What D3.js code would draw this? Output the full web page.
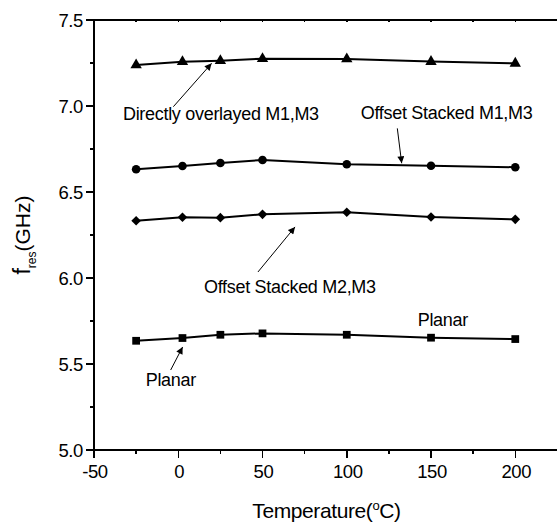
<!DOCTYPE html>
<html>
<head>
<meta charset="utf-8">
<script src="https://cdn.jsdelivr.net/npm/d3@7"></script>
<style>
  html, body { margin: 0; padding: 0; background: #fff; }
  svg { display: block; font-family: "Liberation Sans", Arial, sans-serif; }
</style>
</head>
<body>
<svg id="chart" width="557" height="525"></svg>
<script>
// ---- data -------------------------------------------------------------
const temps = [-25, 2.5, 25, 50, 100, 150, 200];

const overlayed = [7.238, 7.257, 7.263, 7.275, 7.273, 7.258, 7.248];
const stackedM1M3 = [6.632, 6.651, 6.669, 6.686, 6.661, 6.653, 6.644];
const stackedM2M3 = [6.333, 6.353, 6.351, 6.370, 6.382, 6.355, 6.341];
const planar = [5.635, 5.651, 5.670, 5.678, 5.670, 5.653, 5.645];

const xMajorTicks = [-50, 0, 50, 100, 150, 200];
const xMinorTicks = [-25, 25, 75, 125, 175];
const yMajorTicks = [5.0, 5.5, 6.0, 6.5, 7.0, 7.5];
const yMinorTicks = [5.25, 5.75, 6.25, 6.75, 7.25];

// label anchor and arrow (from -> to), in data units
const annotations = [
  { text: 'Directly overlayed M1,M3', at: [-32.8, 6.919], from: [-2.9, 6.996], to: [19.8, 7.248] },
  { text: 'Offset Stacked M1,M3', at: [108.3, 6.924], from: [130.0, 6.870], to: [132.6, 6.667] },
  { text: 'Offset Stacked M2,M3', at: [15.3, 5.913], from: [47.3, 6.035], to: [69.3, 6.297] },
  { text: 'Planar', at: [-19.3, 5.374], from: [-4.5, 5.465], to: [2.6, 5.599] },
  { text: 'Planar', at: [142.1, 5.723] }
];

// ---- layout -----------------------------------------------------------
const margin = { top: 20, left: 94, bottom: 75 };
const width = 557, height = 525;

const svg = d3.select('#chart');

const x = d3.scaleLinear().domain([-50, 225]).range([margin.left, width + 0.4]);
const y = d3.scaleLinear().domain([5.0, 7.5]).range([height - margin.bottom, margin.top]);

const series = [
  { values: overlayed, symbol: d3.symbolTriangle, size: 56, rotate: 0 },
  { values: stackedM1M3, symbol: d3.symbolCircle, size: 58, rotate: 0 },
  { values: stackedM2M3, symbol: d3.symbolSquare, size: 46, rotate: 45 },
  { values: planar, symbol: d3.symbolSquare, size: 60, rotate: 0 }
];

// ---- axes -------------------------------------------------------------
const axes = svg.append('g').attr('stroke', '#000').attr('shape-rendering', 'crispEdges');

// bottom axis
axes.append('line')
  .attr('x1', x(-50)).attr('x2', width)
  .attr('y1', y(5)).attr('y2', y(5))
  .attr('stroke-width', 2);
axes.selectAll('.xmaj').data(xMajorTicks).join('line')
  .attr('x1', d => x(d)).attr('x2', d => x(d))
  .attr('y1', y(5)).attr('y2', y(5) + 8)
  .attr('stroke-width', 1.5);
axes.selectAll('.xmin').data(xMinorTicks).join('line')
  .attr('x1', d => x(d)).attr('x2', d => x(d))
  .attr('y1', y(5)).attr('y2', y(5) + 4)
  .attr('stroke-width', 1.5);

// top border with tiny inside ticks
axes.append('line')
  .attr('x1', x(-50)).attr('x2', width)
  .attr('y1', y(7.5)).attr('y2', y(7.5))
  .attr('stroke-width', 1.5);
axes.selectAll('.xtop').data(xMajorTicks.concat(xMinorTicks)).join('line')
  .attr('x1', d => x(d)).attr('x2', d => x(d))
  .attr('y1', y(7.5)).attr('y2', y(7.5) + 2)
  .attr('stroke-width', 1.5);

// left axis
axes.append('line')
  .attr('x1', x(-50)).attr('x2', x(-50))
  .attr('y1', y(7.5) - 1).attr('y2', y(5) + 1)
  .attr('stroke-width', 2);
axes.selectAll('.ymaj').data(yMajorTicks).join('line')
  .attr('x1', x(-50) - 8).attr('x2', x(-50))
  .attr('y1', d => y(d)).attr('y2', d => y(d))
  .attr('stroke-width', 1.5);
axes.selectAll('.ymin').data(yMinorTicks).join('line')
  .attr('x1', x(-50) - 4).attr('x2', x(-50))
  .attr('y1', d => y(d)).attr('y2', d => y(d))
  .attr('stroke-width', 1.5);

// tick labels
svg.append('g').selectAll('text').data(xMajorTicks).join('text')
  .attr('x', d => x(d) + 1)
  .attr('y', y(5) + 28)
  .attr('text-anchor', 'middle')
  .attr('font-size', 18.5)
  .attr('letter-spacing', -0.4)
  .text(d => d);

svg.append('g').selectAll('text').data(yMajorTicks).join('text')
  .attr('x', x(-50) - 11)
  .attr('y', d => y(d))
  .attr('dy', '0.36em')
  .attr('text-anchor', 'end')
  .attr('font-size', 18.5)
  .attr('letter-spacing', -0.4)
  .text(d => d3.format('.1f')(d));

// axis titles
const xTitle = svg.append('text')
  .attr('x', (x(-50) + width) / 2 + 1)
  .attr('y', 518)
  .attr('text-anchor', 'middle')
  .attr('font-size', 21)
  .attr('letter-spacing', -0.4);
xTitle.append('tspan').text('Temperature(');
xTitle.append('tspan').attr('font-size', 13).attr('dy', -8).text('o');
xTitle.append('tspan').attr('dy', 8).text('C)');

const yTitle = svg.append('text')
  .attr('transform', `translate(30, ${(y(5) + y(7.5)) / 2}) rotate(-90)`)
  .attr('text-anchor', 'middle')
  .attr('font-size', 21);
yTitle.append('tspan').attr('font-size', 23).text('f');
yTitle.append('tspan').attr('font-size', 12).attr('dy', 6).text('res');
yTitle.append('tspan').attr('dy', -6).text('(GHz)');

// ---- series -----------------------------------------------------------
const line = d3.line().x((d, i) => x(temps[i])).y(d => y(d));

series.forEach(s => {
  svg.append('path')
    .datum(s.values)
    .attr('d', line)
    .attr('fill', 'none')
    .attr('stroke', '#000')
    .attr('stroke-width', 2);

  svg.append('g').selectAll('path').data(s.values).join('path')
    .attr('transform', (d, i) => `translate(${x(temps[i])},${y(d)}) rotate(${s.rotate})`)
    .attr('d', d3.symbol().type(s.symbol).size(s.size))
    .attr('fill', '#000');
});

// ---- annotations ------------------------------------------------------
const defs = svg.append('defs');
defs.append('marker')
  .attr('id', 'head')
  .attr('viewBox', '0 0 10 10')
  .attr('refX', 10).attr('refY', 5)
  .attr('markerWidth', 9).attr('markerHeight', 7)
  .attr('markerUnits', 'userSpaceOnUse')
  .attr('orient', 'auto')
  .append('path')
  .attr('d', 'M0,0 L10,5 L0,10 Z')
  .attr('fill', '#000');

const notes = svg.append('g');
annotations.forEach(a => {
  notes.append('text')
    .attr('x', x(a.at[0]))
    .attr('y', y(a.at[1]))
    .attr('font-size', 18)
    .attr('letter-spacing', -0.3)
    .text(a.text);
  if (a.from) {
    notes.append('line')
      .attr('x1', x(a.from[0])).attr('y1', y(a.from[1]))
      .attr('x2', x(a.to[0])).attr('y2', y(a.to[1]))
      .attr('stroke', '#000')
      .attr('stroke-width', 1)
      .attr('marker-end', 'url(#head)');
  }
});
</script>
</body>
</html>
